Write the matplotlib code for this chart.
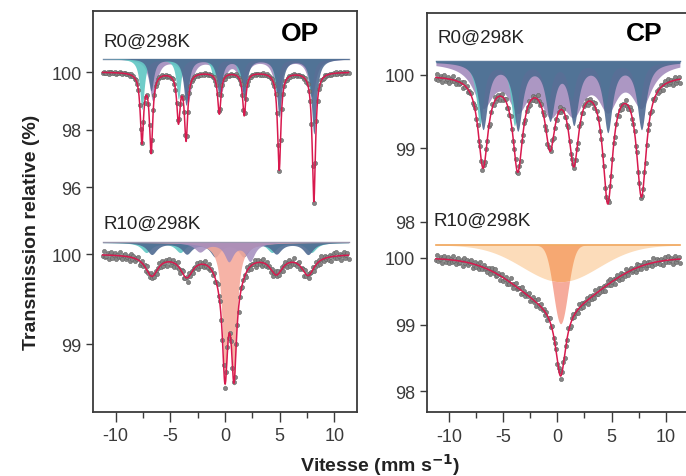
import numpy as np
import matplotlib.pyplot as plt

plt.rcParams['font.family'] = ['Liberation Sans', 'DejaVu Sans']
plt.rcParams['axes.unicode_minus'] = False

# velocity channels (mm/s)
v_min, v_max = -11.2, 11.3
jitter = [0.3, -0.8, 0.5, 0.1, -0.4, 0.9, -0.2, -0.7, 0.6, 0.0, -0.5, 0.8, -0.1, 0.4,
          -0.9, 0.2, 0.7, -0.3, -0.6, 0.5, 0.1, -0.2, 0.9, -0.8, 0.3, -0.4, 0.6, -0.1,
          0.0, -0.7, 0.8, 0.2, -0.5, 0.4, -0.3, 0.7, -0.9, 0.1, 0.5, -0.6, 0.3, -0.2,
          0.6, -0.4, 0.9, -0.1, -0.8]

# ---- OP, R0 : fitted lines (position, depth %, half width)
op_r0_pos = [-7.6, -6.76, -4.26, -3.56, -0.52, 1.76, 4.96, 8.13]
op_r0_depth = [2.38, 2.72, 1.65, 2.29, 1.44, 1.5, 3.4, 4.5]
op_r0_width = 0.18
# sub-spectra
op_r0_slate_pos = [-6.76, -3.56, -0.52, 1.76, 4.96, 8.13]
op_r0_slate_depth = [1.1, 1.6, 1.3, 1.4, 2.0, 2.6]
op_r0_purple_pos = [-6.6, -3.4, -0.35, 1.6, 4.8, 7.95]
op_r0_purple_depth = [1.45, 1.5, 1.1, 1.1, 1.3, 1.3]
op_r0_teal_pos = [-7.6, -4.26, -1.0, 1.45, 4.7, 7.85]
op_r0_teal_depth = [1.76, 1.4, 0.8, 1.0, 1.1, 1.3]

# ---- OP, R10
op_r10_doub_pos = [0.0, 0.82]
op_r10_doub_depth = [1.16, 1.16]
op_r10_sext_pos = [-6.7, -3.5, -0.4, 1.3, 4.7, 7.6]
op_r10_sext_depth = [0.23, 0.23, 0.15, 0.15, 0.2, 0.22]
op_r10_salmon_depth = [1.42, 1.42]
op_r10_purple_pos = [-2.3, 0.35, 2.3]
op_r10_purple_depth = [0.1, 0.2, 0.2]
op_r10_slate_pos = [-6.7, -3.5, -0.9, 1.7, 4.7, 7.6]
op_r10_slate_depth = [0.13, 0.12, 0.15, 0.15, 0.12, 0.13]
op_r10_teal_pos = [-7.2, -4.1, 4.3, 7.9]
op_r10_teal_depth = [0.11, 0.11, 0.11, 0.11]

# ---- CP, R0
cp_r0_pos = [-6.85, -3.65, -0.67, 1.52, 4.65, 7.76]
cp_r0_depth = [1.22, 1.24, 0.9, 1.12, 1.66, 1.6]
cp_r0_slate_depth = [0.9, 0.9, 0.74, 0.8, 0.92, 0.9]
cp_r0_purple_depth = [0.55, 0.55, 0.55, 0.55, 0.55, 0.55]
cp_r0_teal_pos = [-7.15, -3.95, -0.9, 1.3, 4.4, 7.5]
cp_r0_teal_depth = [0.85, 0.85, 0.55, 0.5, 0.6, 0.6]

# ---- CP, R10
cp_r10_center = 0.3
cp_r10_broad_depth, cp_r10_broad_sigma = 0.71, 3.9
cp_r10_narrow_depth, cp_r10_narrow_width = 1.06, 0.57
cp_r10_peach_depth, cp_r10_peach_sigma = 0.55, 3.5
cp_r10_core_depth, cp_r10_core_sigma = 1.18, 0.66


def lor(x, pos, depth, w):
    out = np.zeros_like(x)
    ws = np.broadcast_to(np.asarray(w, float), (len(pos),))
    for p, d, ww in zip(pos, depth, ws):
        out += d / (1 + ((x - p) / ww) ** 2)
    return out


def gau(x, pos, depth, s):
    return depth * np.exp(-0.5 * ((x - pos) / s) ** 2)


v = np.linspace(v_min, v_max, 200)
vf = np.linspace(v_min, v_max, 1500)
jit = np.resize(np.array(jitter), v.size)

slate, purple, teal = '#4f6b92', '#a38cbd', '#5fc7c3'
salmon, peach, orange = '#f6ab9c', '#fcdcba', '#f6a872'
fit_c = '#d8194e'

fig = plt.figure(figsize=(6.86, 4.77), dpi=100)
axL = fig.add_axes([93.3 / 686, 1 - 412.7 / 477, 263.4 / 686, 400.4 / 477])
axR = fig.add_axes([426.7 / 686, 1 - 413.3 / 477, 261.3 / 686, 399.3 / 477])
axL.set_ylim(412.7, 12.3)
axR.set_ylim(413.3, 14)


def spectrum(ax, depth_f, depth_p, y100, ppp, noise):
    ax.plot(v, y100 + (depth_p + jit * noise) * ppp, 'o', ms=3, mfc='#858585',
            mec='#626262', mew=0.4, zorder=4)
    ax.plot(vf, y100 + depth_f * ppp, color=fit_c, lw=1.1, zorder=5)


def comp(ax, depth, base, ppp, color, alpha=0.9, z=2):
    ax.fill_between(vf, base, base + depth * ppp, color=color, alpha=alpha, lw=0, zorder=z)


# OP R0
y100, ppp, base = 73, 28.75, 59.5
axL.plot([v_min, v_max], [base, base], color='#7d8aa0', lw=1, zorder=1)
comp(axL, lor(vf, op_r0_purple_pos, op_r0_purple_depth, 0.4), base, ppp, purple)
comp(axL, lor(vf, op_r0_teal_pos, op_r0_teal_depth, 0.25), base, ppp, teal)
comp(axL, lor(vf, op_r0_slate_pos, op_r0_slate_depth, 0.28), base, ppp, slate)
spectrum(axL, lor(vf, op_r0_pos, op_r0_depth, op_r0_width),
         lor(v, op_r0_pos, op_r0_depth, op_r0_width), y100, ppp, 0.04)

# OP R10
y100, ppp, base = 255, 90, 243.3
axL.plot([v_min, v_max], [base, base], color='#9a94b0', lw=1, zorder=1)
comp(axL, lor(vf, op_r10_teal_pos, op_r10_teal_depth, 0.55), base, ppp, teal)
comp(axL, lor(vf, op_r10_slate_pos, op_r10_slate_depth, 0.55), base, ppp, slate)
comp(axL, lor(vf, op_r10_doub_pos, op_r10_salmon_depth, 0.3), base, ppp, salmon)
comp(axL, lor(vf, op_r10_purple_pos, op_r10_purple_depth, [0.6, 0.5, 0.5]), base, ppp,
     purple, alpha=0.85, z=3)


def op_r10(x):
    return lor(x, op_r10_doub_pos, op_r10_doub_depth, 0.28) + \
        lor(x, op_r10_sext_pos, op_r10_sext_depth, 0.7)


spectrum(axL, op_r10(vf), op_r10(v), y100, ppp, 0.05)

# CP R0
y100, ppp, base = 76, 73.3, 62.3
axR.plot([v_min, v_max], [base, base], color=slate, lw=1, zorder=1)
comp(axR, lor(vf, cp_r0_pos, cp_r0_purple_depth, 1.1), base, ppp, purple)
comp(axR, lor(vf, cp_r0_teal_pos, cp_r0_teal_depth, 0.4), base, ppp, teal)
comp(axR, lor(vf, cp_r0_pos, cp_r0_slate_depth, 0.5), base, ppp, slate)
spectrum(axR, lor(vf, cp_r0_pos, cp_r0_depth, 0.55),
         lor(v, cp_r0_pos, cp_r0_depth, 0.55), y100, ppp, 0.06)

# CP R10
y100, ppp, base = 259, 66.7, 246
axR.plot([v_min, v_max], [base, base], color='#f0a458', lw=1.2, zorder=3)
pk = gau(vf, cp_r10_center, cp_r10_peach_depth, cp_r10_peach_sigma)
core = gau(vf, cp_r10_center, cp_r10_core_depth, cp_r10_core_sigma)
axR.fill_between(vf, base, base + pk * ppp, color=peach, lw=0, zorder=2)
axR.fill_between(vf, base, base + np.minimum(pk, core) * ppp, color=orange, lw=0, zorder=2)
axR.fill_between(vf, base + pk * ppp, base + core * ppp, where=core > pk, color=salmon,
                 lw=0, zorder=2)


def cp_r10(x):
    return gau(x, cp_r10_center, cp_r10_broad_depth, cp_r10_broad_sigma) + \
        lor(x, [cp_r10_center], [cp_r10_narrow_depth], cp_r10_narrow_width)


spectrum(axR, cp_r10(vf), cp_r10(v), y100, ppp, 0.07)

# axes styling
for ax in (axL, axR):
    ax.set_xlim(-12.05, 12.05)
    ax.set_xticks([-10, -5, 0, 5, 10])
    ax.set_xticks([-7.5, -2.5, 2.5, 7.5], minor=True)
    ax.tick_params(axis='x', which='major', length=7, width=1, labelsize=13,
                   colors='#3a3a3a', pad=4)
    ax.tick_params(axis='x', which='minor', length=4, width=1, colors='#3a3a3a')
    ax.tick_params(axis='y', length=5, width=1, labelsize=13, colors='#3a3a3a')
    for s in ax.spines.values():
        s.set_color('#3a3a3a')
        s.set_linewidth(1.3)
axR.spines['right'].set_visible(False)

axL.set_yticks([73, 73 + 2 * 28.75, 73 + 4 * 28.75, 255, 345])
axL.set_yticklabels(['100', '98', '96', '100', '99'])
axR.set_yticks([76, 76 + 73.3, 76 + 2 * 73.3, 259, 259 + 66.7, 259 + 2 * 66.7])
axR.set_yticklabels(['100', '99', '98', '100', '99', '98'])

axL.text(-11.15, 42, 'R0@298K', fontsize=13.5, va='center', ha='left', color='#222222')
axL.text(6.85, 34, 'OP', fontsize=19, fontweight='bold', va='center', ha='center')
axL.text(-11.15, 224, 'R10@298K', fontsize=13.5, va='center', ha='left', color='#222222')
axR.text(-11.1, 38.5, 'R0@298K', fontsize=13.5, va='center', ha='left', color='#222222')
axR.text(8.0, 34, 'CP', fontsize=19, fontweight='bold', va='center', ha='center')
axR.text(-11.4, 221, 'R10@298K', fontsize=13.5, va='center', ha='left', color='#222222')

fig.text(32 / 686, 1 - 232 / 477, 'Transmission relative (%)', rotation=90, fontsize=14,
         fontweight='bold', ha='center', va='center', color='#222222')
fig.text(380 / 686, 1 - 465 / 477, 'Vitesse (mm s$^{\\mathbf{-1}}$)', fontsize=14,
         fontweight='bold', ha='center', va='center', color='#222222')

fig.savefig('out.png', dpi=100)
